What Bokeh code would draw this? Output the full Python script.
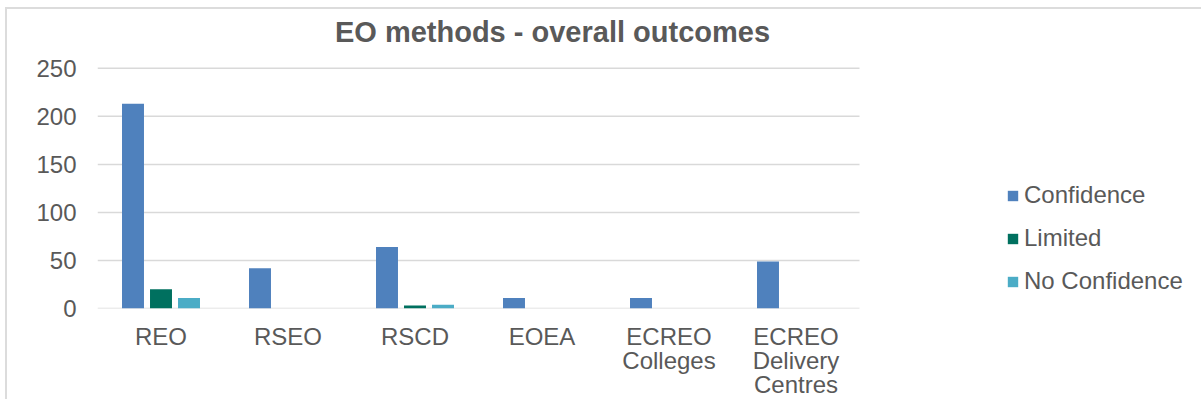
from bokeh.plotting import figure
from bokeh.models import (ColumnDataSource, Range1d, FixedTicker, Legend,
                          LegendItem, Label)
from bokeh.embed import file_html
from bokeh.resources import INLINE

# Evaluation-method outcome counts
methods = ["REO", "RSEO", "RSCD", "EOEA", "ECREO\nColleges", "ECREO\nDelivery\nCentres"]
confidence = [213, 42, 64, 11, 11, 49]
limited = [20, 0, 3, 0, 0, 0]
no_confidence = [11, 0, 4, 0, 0, 0]
y_ticks = [0, 50, 100, 150, 200, 250]

FONT = "Liberation Sans"
TEXT = "#595959"
GRID = "#d9d9d9"

n = len(methods)
centers = [i + 0.5 for i in range(n)]
bar_w = 0.173
step = 0.2205

source = ColumnDataSource(dict(
    x_conf=[c - step for c in centers], x_lim=centers, x_nc=[c + step for c in centers],
    confidence=confidence, limited=limited, no_confidence=no_confidence))

# The plotting frame reaches the right and top edges of the canvas so that the
# title and legend can sit inside it; the category slots span [0, n].
p = figure(width=1196, height=392,
           x_range=Range1d(0, n * 1106 / 762), y_range=Range1d(0, 250 * 300 / 241),
           output_backend="svg", toolbar_location=None,
           min_border_left=90, min_border_right=0, min_border_top=0,
           min_border_bottom=92)
p.outline_line_color = None
p.background_fill_color = "white"
p.border_fill_color = "white"
p.xgrid.grid_line_color = None
p.ygrid.grid_line_color = None
# chart-area edge on the left and top
p.margin = (7, 0, 0, 5)
p.styles = {"border-left": "2px solid #dcdcdc", "border-top": "2px solid #dcdcdc"}

# horizontal gridlines across the category slots only (the 0 line is the baseline)
grid = ColumnDataSource(dict(x0=[0] * len(y_ticks), x1=[n] * len(y_ticks),
                             y=y_ticks))
p.segment(x0="x0", x1="x1", y0="y", y1="y", source=grid,
          line_color=GRID, line_width=1.5)

r_conf = p.vbar(x="x_conf", top="confidence", width=bar_w, source=source,
                fill_color="#4f81bd", line_color=None)
r_lim = p.vbar(x="x_lim", top="limited", width=bar_w, source=source,
               fill_color="#00705f", line_color=None)
r_nc = p.vbar(x="x_nc", top="no_confidence", width=bar_w, source=source,
              fill_color="#4bacc6", line_color=None)

# y axis: labels only
p.yaxis.ticker = FixedTicker(ticks=y_ticks)
p.yaxis.axis_line_color = None
p.yaxis.major_tick_line_color = None
p.yaxis.major_tick_out = 0
p.yaxis.minor_tick_line_color = None
p.yaxis.major_label_standoff = 21
p.yaxis.major_label_text_font = FONT
p.yaxis.major_label_text_font_size = "24px"
p.yaxis.major_label_text_color = TEXT

# x axis: category names under each slot
p.xaxis.ticker = FixedTicker(ticks=centers)
p.xaxis.major_label_overrides = {c: m for c, m in zip(centers, methods)}
p.xaxis.axis_line_color = None
p.xaxis.major_tick_line_color = None
p.xaxis.major_tick_out = 0
p.xaxis.minor_tick_line_color = None
p.xaxis.major_label_standoff = 14
p.xaxis.major_label_text_font = FONT
p.xaxis.major_label_text_font_size = "24px"
p.xaxis.major_label_text_line_height = 0.9
p.xaxis.major_label_text_color = TEXT
p.xaxis.major_label_orientation = "horizontal"

p.add_layout(Label(x=455, y=277, x_units="screen", y_units="screen",
                   text="EO methods - overall outcomes", text_align="center",
                   text_baseline="alphabetic", text_font=FONT, text_font_size="29px",
                   text_font_style="bold", text_color=TEXT))

legend = Legend(items=[LegendItem(label="Confidence", renderers=[r_conf]),
                       LegendItem(label="Limited", renderers=[r_lim]),
                       LegendItem(label="No Confidence", renderers=[r_nc])],
                location=(909, 13), orientation="vertical",
                glyph_width=13, glyph_height=13, label_standoff=5, spacing=15,
                padding=0, margin=0, border_line_color=None,
                background_fill_alpha=0,
                label_text_font=FONT, label_text_font_size="24px",
                label_text_color=TEXT)
p.add_layout(legend)

open("out.html", "w").write(file_html(p, INLINE))
